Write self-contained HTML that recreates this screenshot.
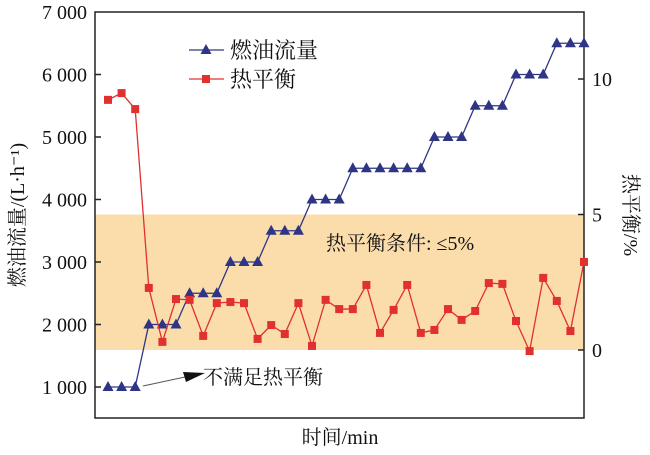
<!DOCTYPE html>
<html><head><meta charset="utf-8"><style>
body{margin:0;background:#fff;}
svg text{font-family:"Liberation Serif","Noto Serif CJK SC","Noto Sans CJK SC",serif;fill:#111;}
</style></head><body>
<svg width="650" height="450" viewBox="0 0 650 450">
<g id="plot"></g>
</svg>
<script>
const flowValues=[1000,1000,1000,2000,2000,2000,2500,2500,2500,3000,3000,3000,3500,3500,3500,4000,4000,4000,4500,4500,4500,4500,4500,4500,5000,5000,5000,5500,5500,5500,6000,6000,6000,6500,6500,6500];
const balanceValues=[9.23,9.48,8.89,2.29,0.30,1.88,1.85,0.52,1.73,1.77,1.73,0.41,0.92,0.59,1.73,0.15,1.85,1.51,1.51,2.40,0.63,1.48,2.40,0.63,0.74,1.51,1.11,1.44,2.47,2.44,1.07,-0.04,2.66,1.81,0.70,3.25];
const leftTicks=[1000,2000,3000,4000,5000,6000,7000];
const leftTickLabels=["1 000","2 000","3 000","4 000","5 000","6 000","7 000"];
const rightTicks=[0,5,10];
const bandRange=[0,5];

const NS="http://www.w3.org/2000/svg";
const g=document.getElementById('plot');
const L=95,R=584,T=12,B=418;
const yL=v=>387-(v-1000)*0.0625;
const yR=v=>350-v*27.1;
const xI=i=>108+i*(584-108)/(flowValues.length-1);
function mk(t,a,p){const e=document.createElementNS(NS,t);for(const k in a)e.setAttribute(k,a[k]);(p||g).appendChild(e);return e;}

const band=mk('rect',{x:L,y:yR(bandRange[1]),width:R-L,height:yR(bandRange[0])-yR(bandRange[1]),fill:'#fbdcab'});


const bt=mk('text',{x:326,y:250,'font-size':20});bt.textContent='热平衡条件: ≤5%';



const fr=mk('rect',{x:L,y:T,width:R-L,height:B-T,fill:'none',stroke:'#222','stroke-width':1.5});



leftTicks.forEach((v,i)=>{
 const y=yL(v);
 if(i<leftTicks.length-1){const t=mk('line',{x1:L,x2:L+6,y1:y,y2:y,stroke:'#222','stroke-width':1.5});
 
 }
 const tx=mk('text',{x:L-8,y:y+7,'font-size':20,'text-anchor':'end'});tx.textContent=leftTickLabels[i];
 
 
});
rightTicks.forEach(v=>{
 const y=yR(v);
 const t=mk('line',{x1:R-6,x2:R,y1:y,y2:y,stroke:'#222','stroke-width':1.5});
 
 
 const tx=mk('text',{x:R+8,y:y+7,'font-size':20});tx.textContent=v;
 
 
});

const fp=mk('polyline',{points:flowValues.map((v,i)=>xI(i)+','+yL(v)).join(' '),fill:'none',stroke:'#2e3584','stroke-width':1.3});


flowValues.forEach((v,i)=>{const x=xI(i),y=yL(v);
 const m=mk('polygon',{points:`${x},${y-6} ${x-5.5},${y+4} ${x+5.5},${y+4}`,fill:'#2e3584'});
 
 });
const bp=mk('polyline',{points:balanceValues.map((v,i)=>xI(i)+','+yR(v)).join(' '),fill:'none',stroke:'#e03030','stroke-width':1.3});


balanceValues.forEach((v,i)=>{const x=xI(i),y=yR(v);
 const m=mk('rect',{x:x-4,y:y-4,width:8,height:8,fill:'#e03030'});
 
 });

const al=mk('line',{x1:143,y1:386,x2:185,y2:377,stroke:'#555','stroke-width':1});


const ah=mk('polygon',{points:'205,373 183,372 186,382',fill:'#111'});


const at=mk('text',{x:203,y:384,'font-size':20});at.textContent='不满足热平衡';



const lg=mk('g',{});


mk('line',{x1:189,x2:224,y1:50,y2:50,stroke:'#2e3584','stroke-width':1.3},lg);
mk('polygon',{points:'206,44 200.5,54 211.5,54',fill:'#2e3584'},lg);
const l1=mk('text',{x:230,y:58,'font-size':22},lg);l1.textContent='燃油流量';


mk('line',{x1:189,x2:224,y1:79,y2:79,stroke:'#e03030','stroke-width':1.3},lg);
mk('rect',{x:202,y:75,width:8,height:8,fill:'#e03030'},lg);
const l2=mk('text',{x:230,y:87,'font-size':22},lg);l2.textContent='热平衡';



const yt=mk('text',{x:0,y:0,'font-size':20,'text-anchor':'middle',transform:'translate(24,215) rotate(-90)'});yt.textContent='燃油流量/(L·h⁻¹)';


const rt=mk('text',{x:0,y:0,'font-size':20,'text-anchor':'middle',transform:'translate(624,215) rotate(90)'});rt.textContent='热平衡/%';


const xt=mk('text',{x:340,y:444,'font-size':20,'text-anchor':'middle'});xt.textContent='时间/min';


</script>
</body></html>
